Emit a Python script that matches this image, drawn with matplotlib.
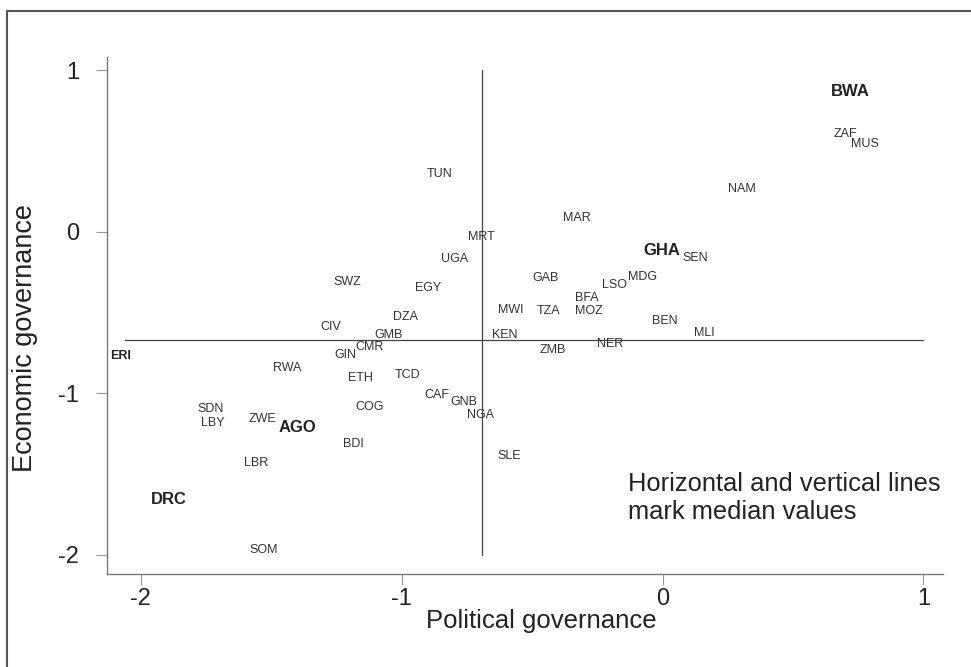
import matplotlib
matplotlib.use('Agg')
import matplotlib.pyplot as plt
from matplotlib.lines import Line2D

# country codes with their governance scores
codes = ['BWA', 'ZAF', 'MUS', 'NAM', 'TUN', 'MAR', 'MRT', 'GHA', 'SEN', 'UGA',
         'SWZ', 'EGY', 'GAB', 'MDG', 'LSO', 'BFA', 'MWI', 'TZA', 'MOZ', 'DZA',
         'BEN', 'CIV', 'GMB', 'KEN', 'MLI', 'CMR', 'NER', 'ZMB', 'GIN', 'ERI',
         'RWA', 'ETH', 'TCD', 'CAF', 'GNB', 'NGA', 'COG', 'SDN', 'LBY', 'ZWE',
         'AGO', 'BDI', 'SLE', 'LBR', 'DRC', 'SOM']
political = [0.721, 0.699, 0.776, 0.303, -0.855, -0.330, -0.694, -0.003, 0.125, -0.796,
             -1.210, -0.899, -0.447, -0.079, -0.185, -0.290, -0.583, -0.439, -0.281, -0.987,
             0.007, -1.274, -1.051, -0.606, 0.161, -1.122, -0.200, -0.420, -1.217, -2.079,
             -1.440, -1.160, -0.979, -0.864, -0.762, -0.698, -1.122, -1.734, -1.725, -1.533,
             -1.400, -1.185, -0.589, -1.559, -1.893, -1.530]
economic = [0.865, 0.607, 0.541, 0.263, 0.356, 0.085, -0.036, -0.114, -0.162, -0.172,
            -0.310, -0.348, -0.286, -0.283, -0.331, -0.413, -0.485, -0.492, -0.490, -0.531,
            -0.555, -0.589, -0.640, -0.640, -0.630, -0.712, -0.696, -0.729, -0.766, -0.768,
            -0.842, -0.904, -0.887, -1.013, -1.056, -1.137, -1.083, -1.098, -1.186, -1.161,
            -1.213, -1.314, -1.387, -1.430, -1.660, -1.970]
highlight = ['BWA', 'GHA', 'AGO', 'DRC']   # larger bold labels
small_bold = ['ERI']

median_pol = -0.694
median_eco = -0.673

xticks = [-2, -1, 0, 1]
yticks = [-2, -1, 0, 1]

plt.rcParams['font.family'] = ['Liberation Sans', 'DejaVu Sans']
plt.rcParams['axes.unicode_minus'] = False

fig = plt.figure(figsize=(9.71, 6.67), dpi=100)
ax = fig.add_axes([0.1102, 0.1394, 0.861, 0.775])

for c, x, y in zip(codes, political, economic):
    if c in highlight:
        ax.text(x, y, c, fontsize=12, fontweight='bold', color='#222222',
                ha='center', va='center')
    elif c in small_bold:
        ax.text(x, y, c, fontsize=9, fontweight='bold', color='#222222',
                ha='center', va='center')
    else:
        ax.text(x, y, c, fontsize=9, color='#333333', ha='center', va='center')

# median lines
ax.plot([-2.06, 1.0], [median_eco, median_eco], color='#444444', lw=0.9)
ax.plot([median_pol, median_pol], [-2.0, 1.0], color='#444444', lw=0.9)

ax.set_xlim(-2.13, 1.075)
ax.set_ylim(-2.118, 1.08)
ax.set_xticks(xticks)
ax.set_yticks(yticks)
ax.set_xticklabels([str(t) for t in xticks])
ax.set_yticklabels([str(t) for t in yticks])

for s in ['top', 'right']:
    ax.spines[s].set_visible(False)
for s in ['left', 'bottom']:
    ax.spines[s].set_color('#777777')
    ax.spines[s].set_linewidth(1.0)

ax.tick_params(axis='both', direction='out', length=8, width=0.8,
               color='#999999', labelsize=17, labelcolor='#222222')
ax.tick_params(axis='y', pad=12)
ax.tick_params(axis='x', pad=2)

ax.set_xlabel('Political governance', fontsize=18.5, color='#222222')
ax.set_ylabel('Economic governance', fontsize=19.5, color='#222222')
ax.xaxis.set_label_coords(0.52, -0.067)
ax.yaxis.set_label_coords(-0.083, 0.456)

ax.text(0.623, 0.147, 'Horizontal and vertical lines\nmark median values',
        transform=ax.transAxes, fontsize=18.4, color='#222222',
        ha='left', va='center', linespacing=1.25)

# frame around the whole picture
fig.add_artist(Line2D([7 / 971, 7 / 971], [0, 1 - 11 / 667],
                      transform=fig.transFigure, color='#555555', lw=1.5))
fig.add_artist(Line2D([7 / 971, 1], [1 - 11 / 667, 1 - 11 / 667],
                      transform=fig.transFigure, color='#555555', lw=1.5))

plt.savefig('out.png', dpi=100)
